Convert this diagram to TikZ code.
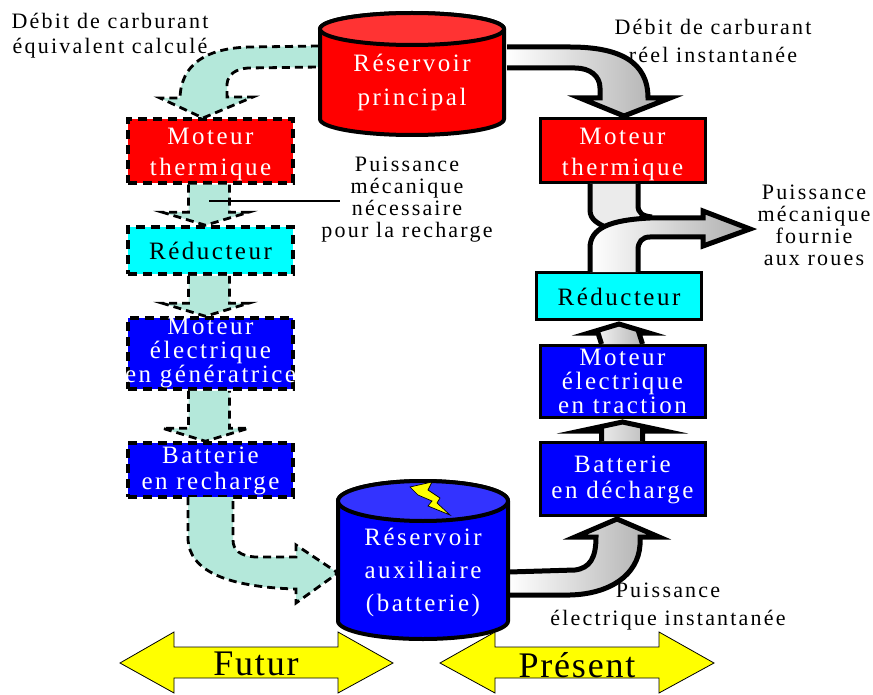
\documentclass[tikz,border=0pt]{standalone}
\usepackage{fontspec}
\setmainfont{Liberation Serif}
\newfontfamily\boxfont[LetterSpace=10]{Liberation Serif}
\newfontfamily\labelfont[LetterSpace=10]{Liberation Serif}
\newfontfamily\bigfont[LetterSpace=5]{Liberation Serif}
\usepackage{tikz}
\usetikzlibrary{calc}

% straight block arrows between two boxes
\newcommand{\hatchdown}[2]{
  \draw[hatcharrow] ($(#1.south)+(-22,0)$) -- ($(#2.north)+(-22,-13)$) -- ($(#2.north)+(-48,-13)$)
    -- ($(#2.north)+(-5,0)$) -- ($(#2.north)+(38,-13)$) -- ($(#2.north)+(19,-13)$) -- ($(#1.south)+(19,0)$);
}
\newcommand{\greyup}[3]{
  \draw[greyarrow] ($(#1.north)+(-21,0)$) -- ($(#2.south)+(-21,12)$) -- ($(#2.south)+(-#3,12)$)
    -- ($(#2.south)+(0,3)$) -- ($(#2.south)+(#3,12)$) -- ($(#2.south)+(20,12)$) -- ($(#1.north)+(20,0)$);
}

\begin{document}
\begin{tikzpicture}[
  x=1pt, y=-1pt,
  box/.style={
    draw=black,
    line width=3pt,
    minimum width=165pt,
    align=center,
    inner sep=0pt
  },
  futurebox/.style={box, dash pattern=on 9pt off 6pt, line width=3.5pt},
  whitetext/.style={text=white, align=center, font=\boxfont\fontsize{25}{#1}\selectfont},
  blacktext/.style={font=\boxfont\fontsize{25}{26}\selectfont},
  lbl/.style={align=center, inner sep=0pt, font=\labelfont\fontsize{22}{#1}\selectfont},
  hatcharrow/.style={draw=black, fill=hatchteal, line width=2.8pt, dash pattern=on 8pt off 5pt},
  greyarrow/.style={draw=black, left color=white, right color=gray!65, line width=5pt},
  tank/.style={draw=black, line width=4pt},
  timearrow/.style={draw=black, fill=timeyellow, line width=0.8pt}
]
\definecolor{hatchteal}{HTML}{B4E8DA}
\definecolor{tanktopred}{HTML}{FF3333}
\definecolor{tanktopblue}{HTML}{3333FF}
\definecolor{boxred}{RGB}{255,0,0}
\definecolor{boxblue}{RGB}{0,0,255}
\definecolor{boxcyan}{RGB}{0,255,255}
\definecolor{timeyellow}{RGB}{255,255,0}

\useasboundingbox (0,0) rectangle (873,695);

% boxes, future side
\node[futurebox, fill=boxred, minimum height=64pt] (mtF) at (210.5,151) {};
\node[futurebox, fill=boxcyan, minimum height=47pt] (redF) at (210.5,250.5) {};
\node[futurebox, fill=boxblue, minimum height=71pt] (melF) at (210.5,353.5) {};
\node[futurebox, fill=boxblue, minimum height=54pt] (batF) at (210.5,470) {};

% boxes, present side
\node[box, fill=boxred, minimum height=64pt] (mtP) at (622.5,151) {};
\node[box, fill=boxcyan, minimum height=47pt] (redP) at (619,296) {};
\node[box, fill=boxblue, minimum height=72pt] (melP) at (622.5,381.5) {};
\node[box, fill=boxblue, minimum height=73pt] (batP) at (622.5,479) {};

% block arrows, future side
\draw[hatcharrow] (319,46) -- (250,47) .. controls (205,48) and (181,65) .. (180,98) -- (160,98)
  -- (203,118) -- (253,97) -- (227,97) -- (227,84) .. controls (228,74) and (236,69) .. (248,68) -- (319,67);
\hatchdown{mtF}{redF}
\hatchdown{redF}{melF}
\hatchdown{melF}{batF}
\draw[hatcharrow] (188,497) -- (188,540) .. controls (190,570) and (225,587) .. (296,589) -- (296,603)
  -- (338,573) -- (296,545) -- (296,557) -- (255,557) .. controls (240,556) and (233,550) .. (233,540) -- (233,497);

% block arrows, present side
\draw[greyarrow] (507,47) -- (570,47) .. controls (620,47) and (648,62) .. (648,98) -- (670,98)
  -- (624,116) -- (580,98) -- (600,98) -- (600,88) .. controls (600,76) and (590,68) .. (575,68) -- (507,68);
\fill[black!8] (590,184) -- (590,210) .. controls (590,220) and (598,224) .. (612,230) -- (638,230) -- (638,184) -- cycle;
\draw[line width=5pt] (590,184) -- (590,210) .. controls (590,220) and (598,224) .. (612,230);
\draw[line width=5pt] (638,184) -- (638,205) .. controls (638,213) and (642,216) .. (652,217);
\draw[greyarrow] (590,272) -- (590,248) .. controls (590,228) and (610,220) .. (650,218) -- (703,218) -- (703,211)
  -- (750,229) -- (703,246) -- (703,237) -- (650,237) .. controls (642,237) and (638,242) .. (638,250) -- (638,272);
\greyup{melP}{redP}{30}
\greyup{batP}{melP}{42}
\draw[greyarrow] (509,572) -- (575,570) .. controls (590,568) and (596,558) .. (596,537) -- (575,537)
  -- (617,519) -- (659,537) -- (640,537) -- (640,545) .. controls (638,575) and (610,594) .. (570,595) -- (509,595);

% tanks
\draw[tank, fill=boxred] (320,29) -- (320,119) arc[start angle=180, end angle=0, x radius=92, y radius=16]
  -- (504,29) arc[start angle=0, end angle=-180, x radius=92, y radius=16];
\draw[tank, fill=tanktopred] (412,29) ellipse[x radius=92, y radius=16];
\draw[tank, fill=boxblue] (338,501) -- (338,621) arc[start angle=180, end angle=0, x radius=85, y radius=18]
  -- (508,501) arc[start angle=0, end angle=-180, x radius=85, y radius=20];
\draw[tank, fill=tanktopblue] (423,501) ellipse[x radius=85, y radius=20];
\draw[draw=black, fill=timeyellow, line width=0.7pt] (410,487) -- (432,482) -- (428,490) -- (440,498) -- (437,503)
  -- (450,515) -- (428,506) -- (432,501) -- (418,495) -- cycle;

% time arrows
\draw[timearrow] (120,663) -- (174,632) -- (174,647) -- (338,647) -- (338,632) -- (393,663)
  -- (338,693) -- (338,678) -- (174,678) -- (174,693) -- cycle;
\draw[timearrow] (440,663) -- (495,632) -- (495,647) -- (659,647) -- (659,632) -- (714,663)
  -- (659,693) -- (659,678) -- (495,678) -- (495,693) -- cycle;

% box texts
\node[whitetext=31] (tmtF) at (210.5,154) {Moteur\\thermique};
\node[blacktext] (tredF) at (210.5,251) {Réducteur};
\node[whitetext=24] (tmelF) at (210.5,353) {Moteur\\électrique\\en génératrice};
\node[whitetext=26] (tbatF) at (210.5,471) {Batterie\\en recharge};
\node[whitetext=31] (tmtP) at (622.5,154) {Moteur\\thermique};
\node[blacktext] (tredP) at (619,297) {Réducteur};
\node[whitetext=24] (tmelP) at (622.5,381) {Moteur\\électrique\\en traction};
\node[whitetext=26] (tbatP) at (622.5,480) {Batterie\\en décharge};
\node[whitetext=34] (resP) at (412,82) {Réservoir\\principal};
\node[whitetext=33] (resA) at (423,572) {Réservoir\\auxiliaire\\(batterie)};

% labels
\node[lbl=25] (lblEq) at (110,36) {Débit de carburant\\équivalent calculé};
\node[lbl=28] (lblReel) at (713,41) {Débit de carburant\\réel instantanée};
\node[lbl=22] (lblRech) at (407,200) {Puissance\\mécanique\\nécessaire\\pour la recharge};
\node[lbl=22] (lblRoues) at (814,225) {Puissance\\mécanique\\fournie\\aux roues};
\node[lbl=28] (lblElec) at (668,607) {Puissance\\électrique instantanée};
\node[font=\bigfont\fontsize{36}{38}\selectfont] (futur) at (256,664) {Futur};
\node[font=\bigfont\fontsize{36}{38}\selectfont] (present) at (577,665) {Présent};

\coordinate (leadA) at (209,201);
\coordinate (leadB) at (340,201);
\draw[line width=1.5pt] (leadA) -- (leadB);
\end{tikzpicture}
\end{document}
